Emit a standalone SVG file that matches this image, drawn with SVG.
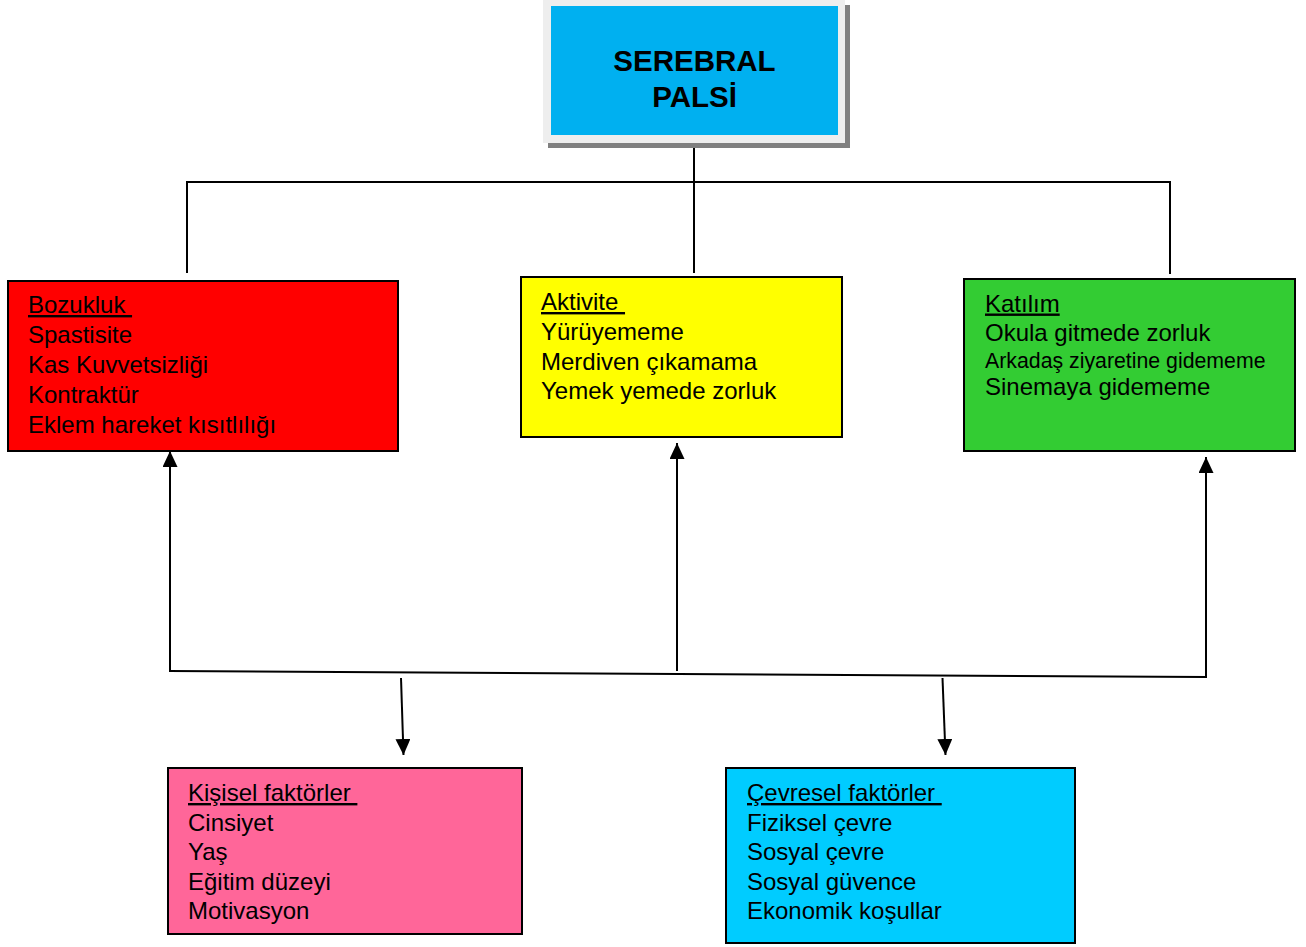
<svg xmlns="http://www.w3.org/2000/svg" width="1306" height="947" viewBox="0 0 1306 947">
  <style>
    .box { stroke: #000; stroke-width: 2; }
    .lbl { font-family: "Liberation Sans", Arial, sans-serif; font-size: 24px; fill: #000; white-space: pre; }
    .sm { font-size: 21.3px; }
    .hd { text-decoration: underline; }
    .title { font-family: "Liberation Sans", Arial, sans-serif; font-size: 29.5px; font-weight: bold; fill: #000; text-anchor: middle; }
    .wire { stroke: #000; stroke-width: 2; fill: none; }
  </style>
  <defs>
    <marker id="arrow" markerUnits="userSpaceOnUse" viewBox="0 0 16 15" refX="16" refY="7.5" markerWidth="16" markerHeight="15" orient="auto">
      <path d="M0,0 L16,7.5 L0,15 Z" fill="#000"/>
    </marker>
  </defs>

  <!-- connectors -->
  <g id="connectors">
    <line class="wire" x1="694" y1="145" x2="694" y2="273"/>
    <line class="wire" x1="186" y1="182" x2="1171" y2="182"/>
    <line class="wire" x1="187" y1="181" x2="187" y2="273"/>
    <line class="wire" x1="1170" y1="181" x2="1170" y2="274"/>
    <line class="wire" x1="169" y1="671" x2="1206" y2="677"/>
    <line class="wire" x1="170" y1="672" x2="170" y2="451" marker-end="url(#arrow)"/>
    <line class="wire" x1="677" y1="671" x2="677" y2="443" marker-end="url(#arrow)"/>
    <line class="wire" x1="1206" y1="678" x2="1206" y2="457" marker-end="url(#arrow)"/>
    <line class="wire" x1="401" y1="678" x2="403.5" y2="755" marker-end="url(#arrow)"/>
    <line class="wire" x1="942.5" y1="678" x2="945.5" y2="755" marker-end="url(#arrow)"/>
  </g>

  <!-- central node -->
  <g id="serebral-palsi">
    <rect x="548" y="5" width="302" height="143" fill="#808080"/>
    <rect x="543" y="0" width="302" height="143" fill="#eeeeee"/>
    <rect x="551" y="6" width="287" height="129" fill="#00b0f0"/>
    <text class="title" x="694.5" y="70.5">SEREBRAL</text>
    <text class="title" x="694.5" y="107">PALSİ</text>
  </g>

  <g id="bozukluk">
    <rect class="box" x="8" y="281" width="390" height="170" fill="#ff0000"/>
    <text class="lbl" x="28" y="313"><tspan class="hd">Bozukluk </tspan></text>
    <text class="lbl" x="28" y="343">Spastisite</text>
    <text class="lbl" x="28" y="372.5">Kas Kuvvetsizliği</text>
    <text class="lbl" x="28" y="402.5">Kontraktür</text>
    <text class="lbl" x="28" y="432.5">Eklem hareket kısıtlılığı</text>
  </g>

  <g id="aktivite">
    <rect class="box" x="521" y="277" width="321" height="160" fill="#ffff00"/>
    <text class="lbl" x="541" y="310"><tspan class="hd">Aktivite </tspan></text>
    <text class="lbl" x="541" y="340">Yürüyememe</text>
    <text class="lbl" x="541" y="369.5">Merdiven çıkamama</text>
    <text class="lbl" x="541" y="399">Yemek yemede zorluk</text>
  </g>

  <g id="katilim">
    <rect class="box" x="964" y="279" width="331" height="172" fill="#33cc33"/>
    <text class="lbl" x="985" y="311.5"><tspan class="hd">Katılım</tspan></text>
    <text class="lbl" x="985" y="341">Okula gitmede zorluk</text>
    <text class="lbl sm" x="985" y="367.5">Arkadaş ziyaretine gidememe</text>
    <text class="lbl" x="985" y="395">Sinemaya gidememe</text>
  </g>

  <g id="kisisel-faktorler">
    <rect class="box" x="168" y="768" width="354" height="166" fill="#ff6699"/>
    <text class="lbl" x="188" y="801"><tspan class="hd">Kişisel faktörler </tspan></text>
    <text class="lbl" x="188" y="831">Cinsiyet</text>
    <text class="lbl" x="188" y="860">Yaş</text>
    <text class="lbl" x="188" y="889.5">Eğitim düzeyi</text>
    <text class="lbl" x="188" y="919">Motivasyon</text>
  </g>

  <g id="cevresel-faktorler">
    <rect class="box" x="726" y="768" width="349" height="175" fill="#00ccff"/>
    <text class="lbl" x="747" y="801"><tspan class="hd">Çevresel faktörler </tspan></text>
    <text class="lbl" x="747" y="831">Fiziksel çevre</text>
    <text class="lbl" x="747" y="860">Sosyal çevre</text>
    <text class="lbl" x="747" y="889.5">Sosyal güvence</text>
    <text class="lbl" x="747" y="919">Ekonomik koşullar</text>
  </g>
</svg>
